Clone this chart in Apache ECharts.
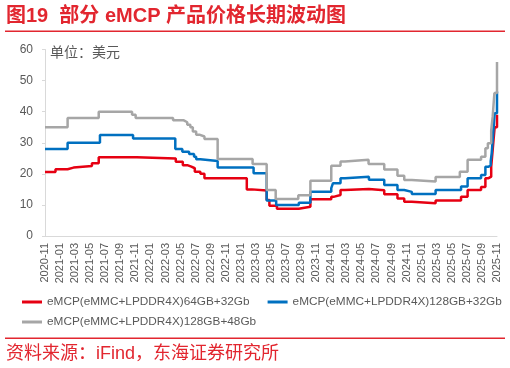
<!DOCTYPE html>
<html><head><meta charset="utf-8">
<script src="https://cdn.jsdelivr.net/npm/echarts@6/dist/echarts.min.js"></script>
<style>html,body{margin:0;padding:0;background:#fff}#c{width:510px;height:368px}</style>
</head><body><div id="c"></div>
<script>
const seriesNames = ['eMCP(eMMC+LPDDR4X)64GB+32Gb','eMCP(eMMC+LPDDR4X)128GB+32Gb','eMCP(eMMC+LPDDR4X)128GB+48Gb'];
const tickLabels = ['2020-11','2021-01','2021-03','2021-05','2021-07','2021-09','2021-11','2022-01','2022-03','2022-05','2022-07','2022-09','2022-11','2023-01','2023-03','2023-05','2023-07','2023-09','2023-11','2024-01','2024-03','2024-05','2024-07','2024-09','2024-11','2025-01','2025-03','2025-05','2025-07','2025-09','2025-11'];
// change points: [date, price] (price holds until next date)
const red64_32 = [['2020-11-01',20.6],['2020-12-13',21.5],['2021-02-01',22],['2021-02-25',22.5],['2021-05-08',23.4],['2021-06-05',25.3],['2021-11-07',24.9],['2022-04-12',23.9],['2022-05-10',22.8],['2022-05-28',22.3],['2022-06-14',21.8],['2022-06-28',20.7],['2022-07-20',20],['2022-08-06',18.6],['2023-01-25',15],['2023-02-15',14.6],['2023-04-14',11.6],['2023-04-25',9.7],['2023-05-25',8.8],['2023-08-22',9.4],['2023-10-08',11.8],['2024-01-01',12.6],['2024-01-10',13.2],['2024-02-08',14.8],['2024-02-26',15.1],['2024-06-01',14.7],['2024-08-02',13.4],['2024-09-25',12.1],['2024-10-22',11],['2024-11-22',10.5],['2025-02-27',11.4],['2025-06-08',12.6],['2025-07-04',14.8],['2025-08-28',15.8],['2025-09-15',18.6],['2025-09-28',19.1],['2025-10-08',22.3],['2025-10-14',27.7],['2025-10-22',35],['2025-11-01',39]];
const blue128_32 = [['2020-11-01',28],['2021-02-01',30],['2021-06-10',32.5],['2021-10-22',31.4],['2022-04-10',28],['2022-05-08',27.1],['2022-06-05',26.4],['2022-06-25',25.5],['2022-07-03',24.7],['2022-07-20',24.1],['2022-09-29',22],['2023-02-22',20.2],['2023-04-14',11.4],['2023-05-22',10],['2023-08-22',10.7],['2023-10-08',14.2],['2024-01-01',15.4],['2024-01-08',17],['2024-02-08',18.6],['2024-02-26',19.1],['2024-06-01',18.1],['2024-08-02',16.4],['2024-09-25',14.8],['2024-10-22',14.2],['2024-11-22',13.5],['2025-02-27',14.8],['2025-06-08',15.9],['2025-07-04',18.6],['2025-08-28',19.6],['2025-09-15',22.3],['2025-09-28',22.8],['2025-10-06',24],['2025-10-10',26.6],['2025-10-15',32],['2025-10-22',39.5],['2025-11-01',46.5]];
const gray128_48 = [['2020-11-01',35],['2021-02-01',38],['2021-06-05',40],['2021-10-18',39],['2021-11-02',38],['2022-04-01',37.2],['2022-05-14',36.6],['2022-05-28',35.8],['2022-06-10',35],['2022-06-20',33.6],['2022-07-03',32.6],['2022-07-16',32],['2022-08-06',31.2],['2022-09-29',24.8],['2023-02-18',23.2],['2023-04-14',14.8],['2023-05-20',11.9],['2023-08-20',13.1],['2023-10-08',17.8],['2024-01-01',22.6],['2024-02-08',24],['2024-02-26',24.5],['2024-05-30',23.2],['2024-08-02',21.4],['2024-09-25',19.4],['2024-10-22',18],['2024-11-22',17.5],['2025-02-27',19],['2025-06-03',20.7],['2025-07-04',24.5],['2025-08-28',25.5],['2025-09-15',28.2],['2025-09-25',29.8],['2025-10-08',34],['2025-10-14',38.4],['2025-10-21',46],['2025-11-01',56]];
const colors = ['#e60012','#0070c0','#a6a6a6'];

function toMonth(s){const p=s.split('-').map(Number);return (p[0]-2020)*12+(p[1]-11)+(p[2]-1)/30.5;}
function conv(arr){return arr.map(d=>[toMonth(d[0]),d[1]]);}
const RED='#e2262f';
const chart = echarts.init(document.getElementById('c'),null,{renderer:'canvas'});
const lbl = {color:'#595959',fontFamily:'"Liberation Sans",Arial,sans-serif'};
chart.setOption({
  animation:false,
  color:colors,
  grid:{left:45,right:13,top:49.5,bottom:132,containLabel:false},
  xAxis:{type:'value',min:0,max:60,interval:2,
    axisLine:{show:true,lineStyle:{color:'#d9d9d9',width:1}},
    axisTick:{show:false},splitLine:{show:false},
    axisLabel:Object.assign({rotate:90,fontSize:11,margin:7,showMinLabel:true,showMaxLabel:true,
      formatter:v=>tickLabels[Math.round(v/2)]||''},lbl)},
  yAxis:{type:'value',min:0,max:60,interval:10,
    axisLine:{show:true,lineStyle:{color:'#d9d9d9',width:1}},
    axisTick:{show:true,length:3,lineStyle:{color:'#d9d9d9'}},
    splitLine:{show:false},
    axisLabel:Object.assign({fontSize:12,margin:12},lbl)},
  legend:[
    {data:[seriesNames[0],seriesNames[1]],left:22,top:296,width:488,padding:0,itemGap:18,icon:'rect',itemWidth:20,itemHeight:3,
     textStyle:Object.assign({fontSize:11.8},lbl)},
    {data:[seriesNames[2]],left:22,top:316,width:488,padding:0,icon:'rect',itemWidth:20,itemHeight:3,
     textStyle:Object.assign({fontSize:11.8},lbl)}
  ],
  graphic:[
    {type:'text',left:6,top:6,style:{text:'图19  部分 eMCP 产品价格长期波动图',font:'bold 20px "Liberation Sans","Noto Sans CJK SC"',fill:RED}},
    {type:'rect',shape:{x:5,y:30.5,width:500,height:1.5},style:{fill:RED}},
    {type:'text',left:50,top:46,style:{text:'单位：美元',font:'14px "Liberation Sans","Noto Sans CJK SC"',fill:'#595959'}},
    {type:'rect',shape:{x:5,y:337.5,width:500,height:1.5},style:{fill:RED}},
    {type:'text',left:6,top:345,style:{text:'资料来源：iFind，东海证券研究所',font:'18px "Liberation Sans","Noto Sans CJK SC"',fill:RED}}
  ],
  series:[
    {name:seriesNames[0],type:'line',step:'end',showSymbol:false,data:conv(red64_32),lineStyle:{width:2.5}},
    {name:seriesNames[1],type:'line',step:'end',showSymbol:false,data:conv(blue128_32),lineStyle:{width:2.5}},
    {name:seriesNames[2],type:'line',step:'end',showSymbol:false,data:conv(gray128_48),lineStyle:{width:2.5}}
  ]
});
</script></body></html>
